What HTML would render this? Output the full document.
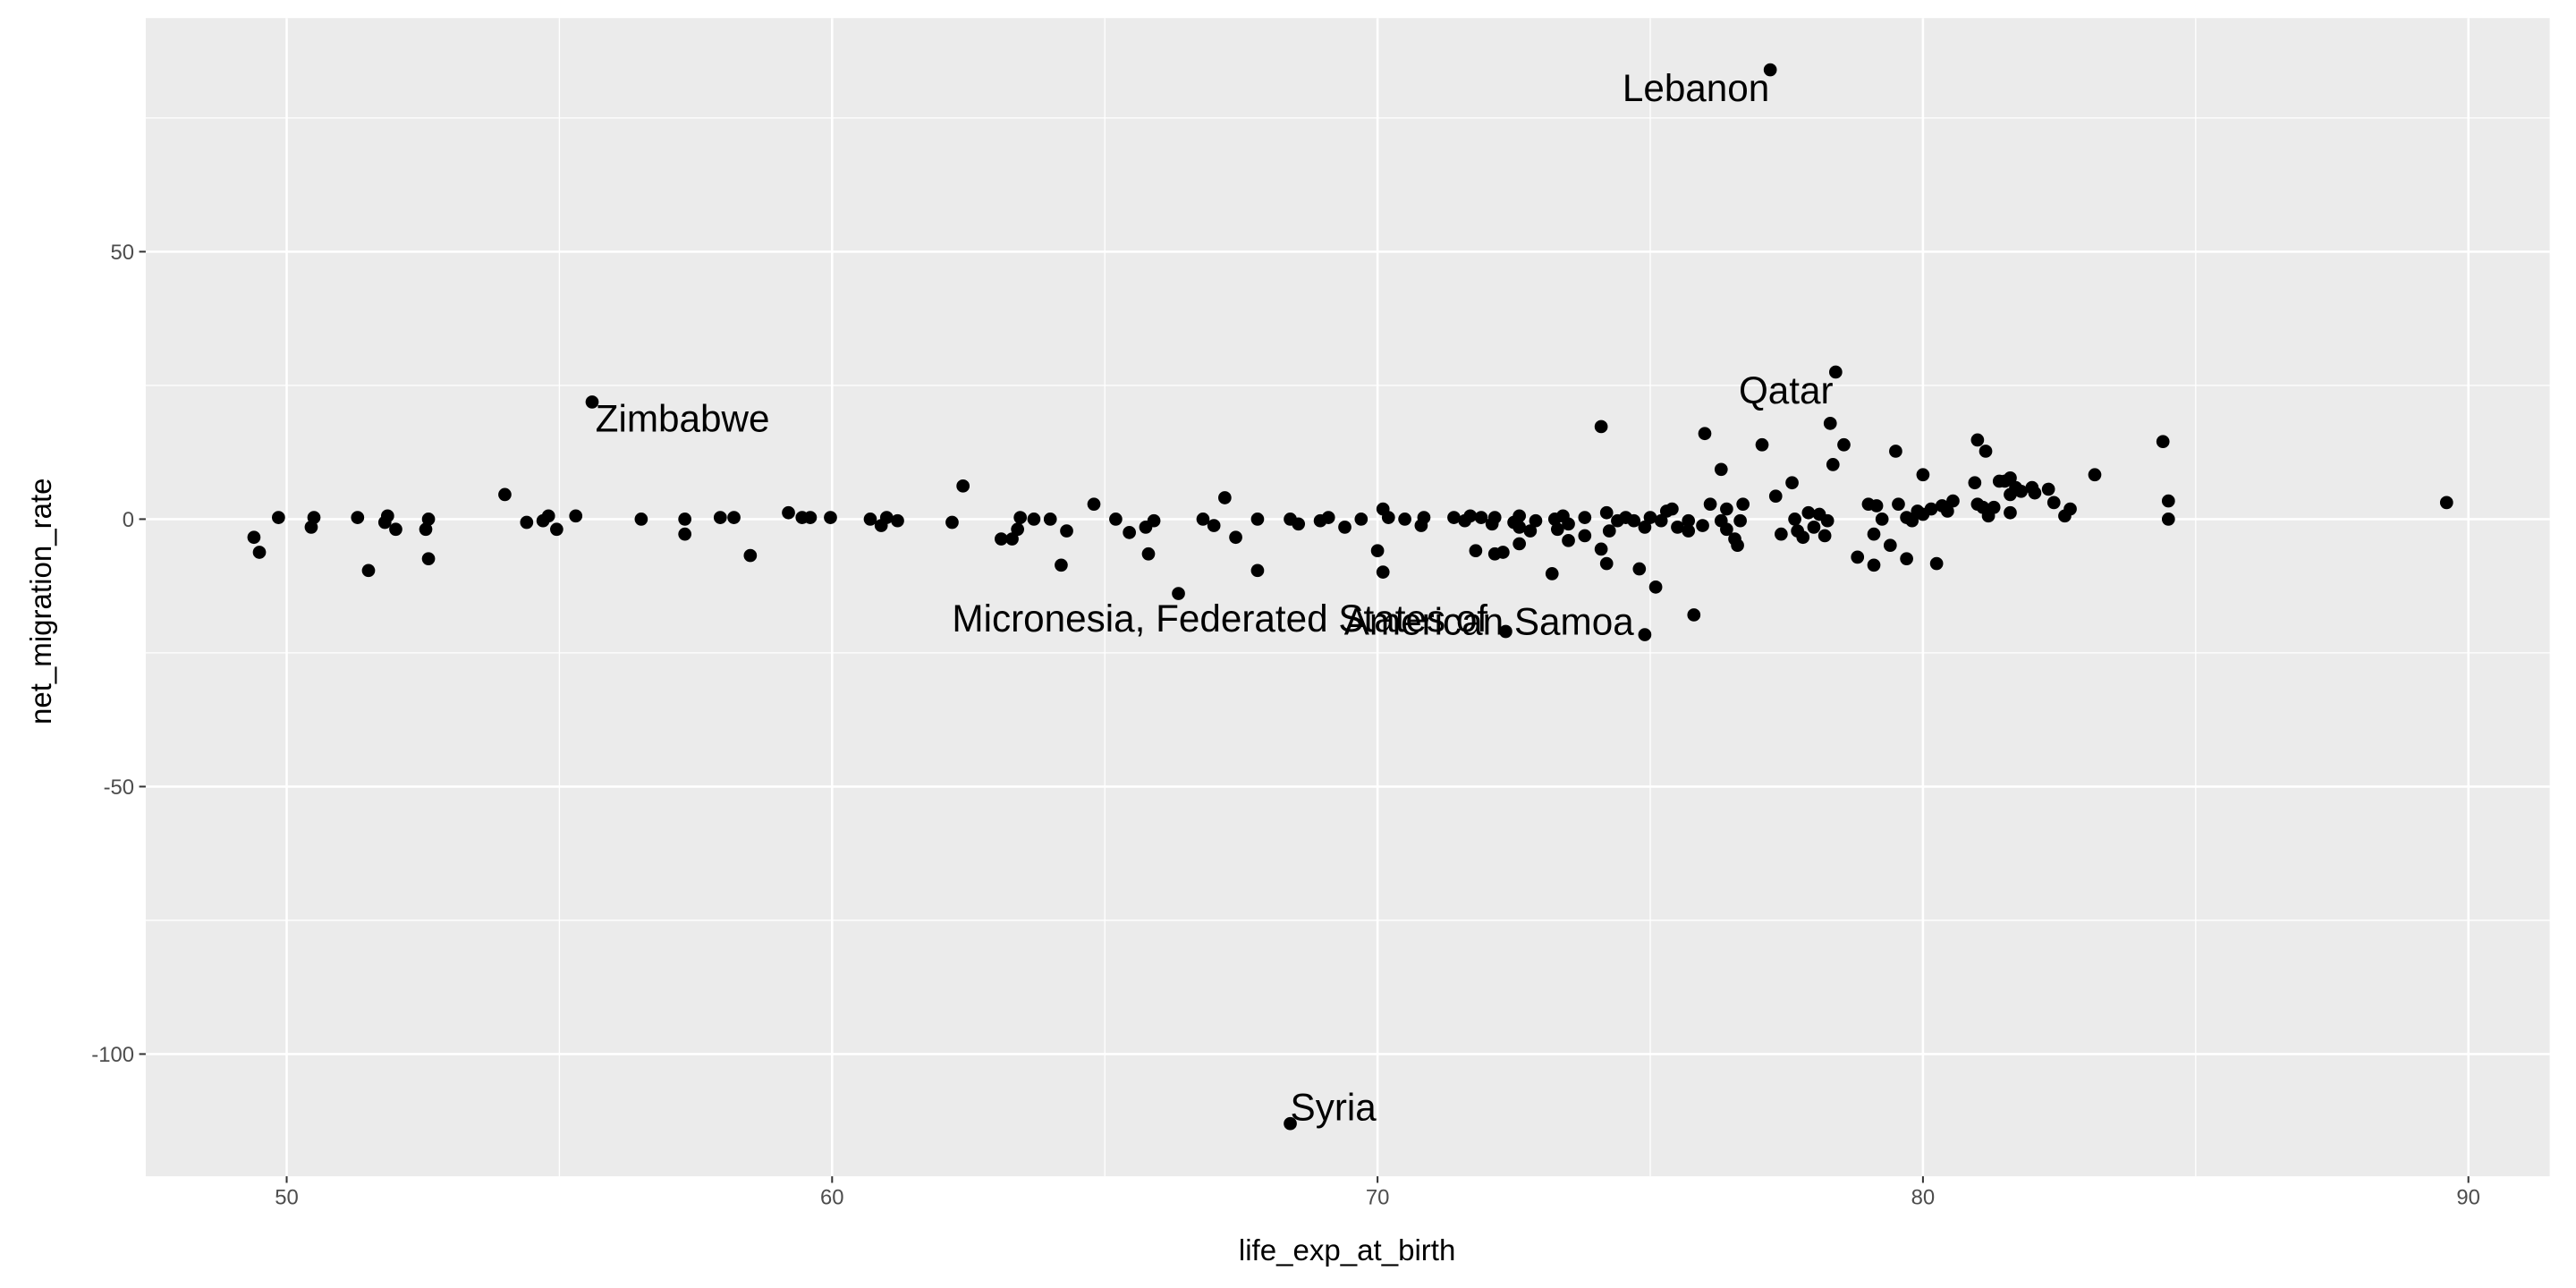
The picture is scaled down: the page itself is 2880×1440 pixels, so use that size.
<!DOCTYPE html>
<html><head><meta charset="utf-8"><style>html,body{margin:0;padding:0;background:#fff}svg{display:block}</style></head>
<body>
<svg id="chart" width="2880" height="1440" viewBox="0 0 1568 784" xmlns="http://www.w3.org/2000/svg" font-family="Liberation Sans, Arial, sans-serif">
<rect x="0" y="0" width="1568" height="784" fill="#fff"/>
<rect x="88.7" y="11" width="1463.3" height="705" fill="#ebebeb"/>
<g id="grid"></g>
<g id="points"></g>
<g id="labels"></g>
<g id="axes"></g>
<text x="820" y="767" text-anchor="middle" font-size="18" fill="#000">life_exp_at_birth</text>
<text transform="translate(31,366) rotate(-90)" text-anchor="middle" font-size="18" fill="#000">net_migration_rate</text>
</svg>
<script>
const lifeExp = [49.4,49.5,49.85,50.45,50.5,51.3,51.5,51.8,51.85,52.0,52.55,52.6,52.6,54.0,54.4,54.7,54.8,54.95,55.3,55.6,56.5,57.3,57.3,57.95,58.2,58.5,59.2,59.45,59.6,59.97,60.7,60.9,61.0,61.2,62.2,62.4,63.1,63.3,63.4,63.45,63.7,64.0,64.2,64.3,64.8,65.2,65.45,65.75,65.8,65.9,66.35,66.8,67.0,67.2,67.4,67.8,67.8,68.4,68.55,68.4,68.95,69.1,69.4,69.7,70.0,70.1,70.1,70.2,70.5,70.8,70.85,71.4,71.6,71.7,71.8,71.9,72.1,72.15,72.15,72.3,72.35,72.5,72.6,72.6,72.6,72.8,72.9,73.2,73.25,73.3,73.4,73.5,73.5,73.8,73.8,74.1,74.1,74.2,74.2,74.25,74.4,74.55,74.7,74.8,74.9,74.9,75.0,75.1,75.2,75.3,75.4,75.5,75.7,75.7,75.8,75.96,76.0,76.1,76.3,76.3,76.4,76.4,76.55,76.6,76.65,76.7,77.05,77.2,77.3,77.4,77.6,77.65,77.7,77.8,77.9,78.0,78.1,78.2,78.25,78.3,78.35,78.4,78.55,78.8,79.0,79.1,79.1,79.15,79.25,79.4,79.5,79.55,79.7,79.7,79.8,79.9,80.0,80.0,80.15,80.25,80.35,80.45,80.55,80.95,81.0,81.0,81.1,81.15,81.2,81.3,81.4,81.5,81.6,81.6,81.6,81.7,81.8,82.0,82.05,82.3,82.4,82.6,82.7,83.15,84.4,84.5,84.5,89.6];
const netMigration = [-3.4,-6.2,0.3,-1.5,0.3,0.3,-9.6,-0.6,0.6,-1.9,-1.9,0,-7.4,4.6,-0.6,-0.3,0.6,-1.9,0.6,21.9,0,0,-2.8,0.3,0.3,-6.8,1.2,0.3,0.3,0.3,0,-1.2,0.3,-0.3,-0.6,6.2,-3.7,-3.7,-1.9,0.3,0,0,-8.6,-2.2,2.8,0,-2.5,-1.5,-6.5,-0.3,-13.9,0,-1.2,4.0,-3.4,0,-9.6,0,-0.9,-113,-0.3,0.3,-1.5,0,-5.9,-9.9,1.9,0.3,0,-1.2,0.3,0.3,-0.3,0.6,-5.9,0.3,-0.9,0.3,-6.5,-6.2,-21,-0.6,-1.5,-4.6,0.6,-2.2,-0.3,-10.2,0,-1.9,0.6,-4,-0.9,-3.1,0.3,17.3,-5.6,-8.3,1.2,-2.2,-0.3,0.3,-0.3,-9.3,-21.6,-1.5,0.3,-12.7,-0.3,1.5,1.9,-1.5,-2.2,-0.3,-17.9,-1.2,16,2.8,9.3,-0.3,-1.9,1.9,-3.7,-4.9,-0.3,2.8,13.9,84,4.3,-2.8,6.8,0,-2.2,-3.4,1.2,-1.5,0.9,-3.1,-0.3,17.9,10.2,27.5,13.9,-7.1,2.8,-8.6,-2.8,2.5,0,-4.9,12.7,2.8,0.3,-7.4,-0.3,1.5,8.3,0.9,1.9,-8.3,2.5,1.5,3.4,6.8,2.8,14.8,2.2,12.7,0.6,2.2,7.1,7.1,7.7,4.6,1.2,5.9,5.2,5.9,4.9,5.6,3.1,0.6,1.9,8.3,14.5,3.4,0,3.1];
const labelNames = ["Lebanon","Qatar","Zimbabwe","Micronesia, Federated States of","American Samoa","Syria"];
const labelX = [77.2,78.4,55.6,72.35,74.9,68.4];
const labelY = [84,27.5,21.9,-21,-21.6,-113];
const xTicks = [50,60,70,80,90];
const xMinor = [55,65,75,85];
const yTicks = [50,0,-50,-100];
const yMinor = [75,25,-25,-75];
const xTickLabels = ["50","60","70","80","90"];
const yTickLabels = ["50","0","-50","-100"];

const P = {l:88.7, r:1552, t:11, b:716};
function xs(v){ return 174.5 + (v-50)*33.2; }
function ys(v){ return 316 - v*3.256; }
const NS='http://www.w3.org/2000/svg';
function mk(tag, attrs, parent){ const e=document.createElementNS(NS,tag); for(const k in attrs) e.setAttribute(k,attrs[k]); parent.appendChild(e); return e; }
const grid=document.getElementById('grid'), pts=document.getElementById('points'), lab=document.getElementById('labels'), axes=document.getElementById('axes');
xMinor.forEach(v=>{ const l=mk('line',{x1:xs(v),x2:xs(v),y1:P.t,y2:P.b,stroke:'#fff','stroke-width':0.7},grid);

 });
yMinor.forEach(v=>{ const l=mk('line',{x1:P.l,x2:P.r,y1:ys(v),y2:ys(v),stroke:'#fff','stroke-width':0.7},grid);

 });
xTicks.forEach((v,i)=>{ const l=mk('line',{x1:xs(v),x2:xs(v),y1:P.t,y2:P.b,stroke:'#fff','stroke-width':1.4},grid);


const t=mk('line',{x1:xs(v),x2:xs(v),y1:P.b,y2:P.b+4,stroke:'#333','stroke-width':1.1},axes);


const tx=mk('text',{x:xs(v),y:P.b+17,'text-anchor':'middle','font-size':13,fill:'#4d4d4d'},axes); tx.textContent=xTickLabels[i];

 });
yTicks.forEach((v,i)=>{ const l=mk('line',{x1:P.l,x2:P.r,y1:ys(v),y2:ys(v),stroke:'#fff','stroke-width':1.4},grid);


const t=mk('line',{x1:P.l-4,x2:P.l,y1:ys(v),y2:ys(v),stroke:'#333','stroke-width':1.1},axes);


const tx=mk('text',{x:P.l-7,y:ys(v)+4.6,'text-anchor':'end','font-size':13,fill:'#4d4d4d'},axes); tx.textContent=yTickLabels[i];

 });
lifeExp.forEach((v,i)=>{ const c=mk('circle',{cx:xs(v),cy:ys(netMigration[i]),r:4,fill:'#000'},pts);

 });
// label offsets (dx, dy) relative to each labelled point
const labDX=[-90,-59,2,-337,-183,0];
const labDY=[19,19,18,0,0,-2];
labelNames.forEach((n,i)=>{
const px=xs(labelX[i]), py=ys(labelY[i]);
const t=mk('text',{x:px+labDX[i],y:py+labDY[i],'text-anchor':'start','font-size':23,fill:'#000'},lab); t.textContent=n;

 });
</script>
</body></html>
